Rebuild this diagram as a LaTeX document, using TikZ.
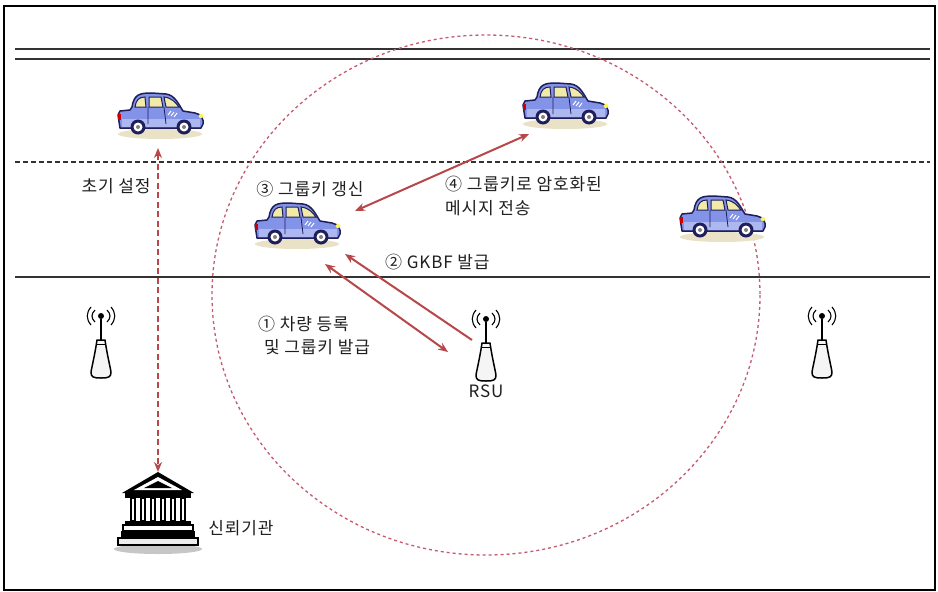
\documentclass[tikz,border=0pt]{standalone}
\usepackage{fontspec}
\setmainfont{Noto Sans CJK KR}[LetterSpace=5]
\usetikzlibrary{arrows.meta}

\definecolor{arrowred}{HTML}{B8474A}
\definecolor{ringred}{HTML}{C65A6E}
\definecolor{carblue}{HTML}{8393E8}
\definecolor{carline}{HTML}{1E1E5A}
\definecolor{glass}{HTML}{F2EBA8}
\definecolor{shadowtan}{HTML}{E9E2C6}

\tikzset{
  label/.style={font=\fontsize{17}{20}\selectfont, inner sep=0pt, text=black!88},
  anchorbox/.style={inner sep=0pt, minimum width=88pt, minimum height=44pt},
  link/.style={draw=arrowred, line width=2pt},
  tips/.style={{Stealth[length=10pt,width=8pt]}-{Stealth[length=10pt,width=8pt]}},
  endtip/.style={-{Stealth[length=10pt,width=8pt]}},
  car/.pic={
    \fill[shadowtan] (0,19) ellipse (42 and 5);
    \draw[carline, line width=1.5pt, fill=carblue, line join=round]
      (-40,13) -- (-42,0) -- (-40,-4) -- (-30,-5) -- (-28,-8)
      .. controls (-26,-21) and (-20,-22) .. (-8,-22) -- (6,-21)
      .. controls (15,-20) and (19,-10) .. (23,-4) -- (35,-2)
      .. controls (41,-1) and (44,4) .. (43,9) -- (41,13) -- cycle;
    \fill[white, opacity=0.35] (-38,4) -- (40,4) -- (40,12) -- (-38,12) -- cycle;
    \draw[carline, line width=1pt, fill=glass]
      (-25,-8) .. controls (-24,-15) and (-21,-18) .. (-15,-18) -- (-14,-8) -- cycle;
    \draw[carline, line width=1pt, fill=glass]
      (-11,-8) -- (-11,-18) -- (1,-18) -- (3,-8) -- cycle;
    \draw[carline, line width=1pt, fill=glass]
      (6,-8) -- (4,-18) .. controls (12,-17) and (15,-13) .. (19,-8) -- cycle;
    \draw[carline, line width=0.8pt] (-12,-8) -- (-12,9) (4,-8) -- (6,9);
    \draw[white, line width=1pt] (8,0) -- (11,-4) (11,1) -- (14,-3) (14,2) -- (17,-2);
    \fill[red!80!black] (-42.5,-1) rectangle (-39,5);
    \fill[yellow!70] (41,1) ellipse (2.5 and 2);
    \foreach \wx in {-22,24} {
      \fill[carline] (\wx,12) circle (7.5);
      \fill[white] (\wx,12) circle (4.5);
      \fill[gray] (\wx,12) circle (2);
    }
  },
  mast/.pic={
    \draw[line width=1.4pt] (0,3) -- (0,24);
    \fill (0,0) circle (3);
    \foreach \s in {1,-1} {
      \draw[line width=1.1pt, xscale=\s] (-6,-6) .. controls (-10,-2) and (-10,2) .. (-6,6);
      \draw[line width=1.1pt, xscale=\s] (-10,-9) .. controls (-15,-3) and (-15,3) .. (-10,9);
    }
    \draw[line width=1.5pt, fill=gray!8, line join=round]
      (-4,24) -- (4,24) .. controls (6,38) and (9,50) .. (10,56)
      .. controls (10,61) and (8,62) .. (0,62)
      .. controls (-8,62) and (-10,61) .. (-10,56)
      .. controls (-9,50) and (-6,38) .. (-4,24) -- cycle;
    \draw[line width=1pt] (-4.3,28) -- (4.3,28);
  },
  hall/.pic={
    \fill[gray!45] (0,77) ellipse (44 and 5);
    \fill[black] (0,0) -- (36,21) -- (-36,21) -- cycle;
    \fill[white] (0,5) -- (24,18) -- (-24,18) -- cycle;
    \fill[black] (0,9) -- (14,16) -- (-14,16) -- cycle;
    \fill[black] (-33,21) rectangle (33,26);
    \foreach \cx in {-25,-15,-5,5,15,25} {
      \fill[black] (\cx-3.2,26) rectangle (\cx+3.2,49);
      \fill[white] (\cx-1,27) rectangle (\cx+1,48);
    }
    \fill[black] (-33,49) rectangle (33,53);
    \draw[line width=1.2pt, fill=white] (-35,53) rectangle (35,59);
    \fill[black] (-37,59) rectangle (37,66);
    \draw[line width=1.2pt, fill=gray!15] (-40,66) rectangle (40,73);
  }
}

\begin{document}
\begin{tikzpicture}[x=1pt, y=-1pt]
  \useasboundingbox (0,0) rectangle (938,592);
  \fill[white] (0,0) rectangle (938,592);
  \draw[line width=1.6pt] (4,6) rectangle (935,590);

  % road markings
  \draw[line width=1.2pt, black!80] (15,49) -- (930,49);
  \draw[line width=1.2pt, black!80] (15,59) -- (930,59);
  \draw[line width=1.2pt, black!80, dash pattern=on 5pt off 3pt] (15,162) -- (930,162);
  \draw[line width=1.2pt, black!80] (15,277) -- (930,277);

  % RSU coverage area
  \draw[ringred, line width=1.3pt, dash pattern=on 3pt off 3pt] (486,295) ellipse (274 and 260);

  % vehicles
  \node[anchorbox] (car1) at (160,115) {};
  \node[anchorbox] (car2) at (565,105) {};
  \node[anchorbox] (car3) at (297,225) {};
  \node[anchorbox] (car4) at (722,218) {};
  \foreach \c in {car1,car2,car3,car4} { \pic at (\c) {car}; }

  % roadside units
  \coordinate (mastL) at (101,316);
  \coordinate (rsu) at (486,319);
  \coordinate (mastR) at (822,316);
  \foreach \m in {mastL,rsu,mastR} { \pic at (\m) {mast}; }

  % trusted authority
  \coordinate (bank) at (158,472);
  \pic at (bank) {hall};

  % texts
  \node[label] (tInit) at (116,186) {초기 설정};
  \node[label] (tRenew) at (310,189) {③ 그룹키 갱신};
  \node[label, anchor=west] (tMsg1) at (445,184) {④ 그룹키로 암호화된};
  \node[label, anchor=west] (tMsg2) at (445,208) {메시지 전송};
  \node[label, anchor=west] (tGkbf) at (385,262) {② GKBF 발급};
  \node[label, anchor=west] (tReg1) at (258,324) {① 차량 등록};
  \node[label, anchor=west] (tReg2) at (264,347) {및 그룹키 발급};
  \node[label] (tRsu) at (486,391) {RSU};
  \node[label] (tBank) at (241,528) {신뢰기관};

  % connector end points
  \coordinate (initTop) at (158,148);
  \coordinate (msgA) at (355,211);
  \coordinate (msgB) at (529,134);
  \coordinate (gkbfA) at (472,340);
  \coordinate (gkbfB) at (345,254);
  \coordinate (regA) at (325,264);
  \coordinate (regB) at (448,352);

  % message flows
  \draw[link, tips, dash pattern=on 6pt off 3.5pt] (initTop) -- (bank);
  \draw[link, tips] (msgA) -- (msgB);
  \draw[link, endtip] (gkbfA) -- (gkbfB);
  \draw[link, tips] (regA) -- (regB);
\end{tikzpicture}
\end{document}
